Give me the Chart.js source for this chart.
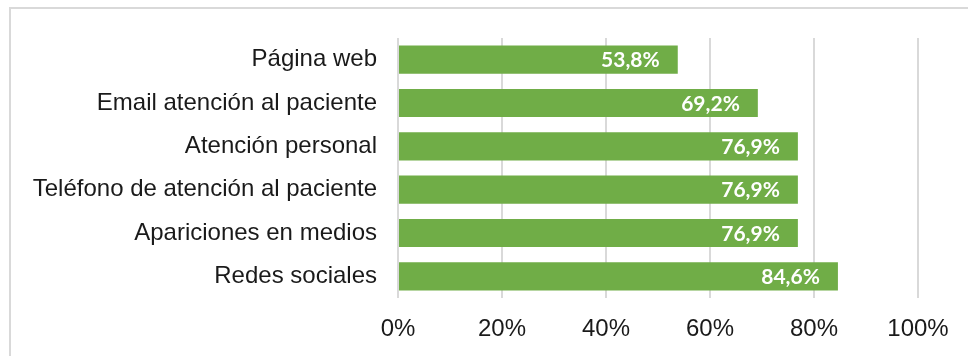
<!DOCTYPE html>
<html>
<head>
<meta charset="utf-8">
<script src="https://cdn.jsdelivr.net/npm/chart.js@4"></script>
<style>
  html, body { margin: 0; padding: 0; background: #fff; }
  .frame {
    position: absolute; left: 9px; top: 7px; right: -4px; bottom: -4px;
    border-top: 2px solid #d9d9d9; border-left: 2px solid #d9d9d9;
  }
  .wrap { position: absolute; left: 0; top: 0; width: 968px; height: 356px; }
</style>
</head>
<body>
<div class="frame"></div>
<div class="wrap"><canvas id="chart"></canvas></div>
<script>
// Canales de comunicación (% de hospitales)
const categories = [
  'Página web',
  'Email atención al paciente',
  'Atención personal',
  'Teléfono de atención al paciente',
  'Apariciones en medios',
  'Redes sociales'
];
const values = [53.8, 69.2, 76.9, 76.9, 76.9, 84.6];
const xTicks = [0, 20, 40, 60, 80, 100];

const barColor = '#70ad47';
const gridColor = '#d9d9d9';
const textColor = '#1a1a1a';

const fmt = v => v.toFixed(1).replace('.', ',') + '%';

// white value labels drawn at the inner end of each bar
const barLabels = {
  id: 'barLabels',
  afterDatasetsDraw(chart) {
    const ctx = chart.ctx;
    const meta = chart.getDatasetMeta(0);
    ctx.save();
    ctx.font = 'bold 21px Lato, sans-serif';
    ctx.fillStyle = '#ffffff';
    ctx.textAlign = 'right';
    ctx.textBaseline = 'middle';
    meta.data.forEach((bar, i) => {
      ctx.fillText(fmt(values[i]), bar.x - 18, bar.y + 1);
    });
    ctx.restore();
  }
};

new Chart(document.getElementById('chart'), {
  type: 'bar',
  data: {
    labels: categories,
    datasets: [{
      data: values,
      backgroundColor: barColor,
      borderWidth: 0,
      categoryPercentage: 1,
      barPercentage: 0.65
    }]
  },
  options: {
    indexAxis: 'y',
    responsive: true,
    maintainAspectRatio: false,
    animation: false,
    layout: { padding: { left: 10, right: 50, top: 38, bottom: 0 } },
    plugins: { legend: { display: false }, tooltip: { enabled: false } },
    scales: {
      x: {
        min: 0, max: 100,
        afterBuildTicks: s => { s.ticks = xTicks.map(v => ({ value: v })); },
        grid: { color: gridColor, lineWidth: 2, drawTicks: false },
        border: { display: false },
        ticks: {
          padding: 17,
          color: textColor,
          font: { family: '"Liberation Sans", Arial, sans-serif', size: 24 },
          callback: v => v + '%'
        },
        afterFit: s => { s.height = 58; }
      },
      y: {
        grid: { display: false, drawTicks: false },
        border: { display: false },
        ticks: {
          padding: 21,
          color: textColor,
          font: { family: '"Liberation Sans", Arial, sans-serif', size: 24 }
        },
        afterFit: s => { s.width = 388; }
      }
    }
  },
  plugins: [barLabels]
});
</script>
</body>
</html>
